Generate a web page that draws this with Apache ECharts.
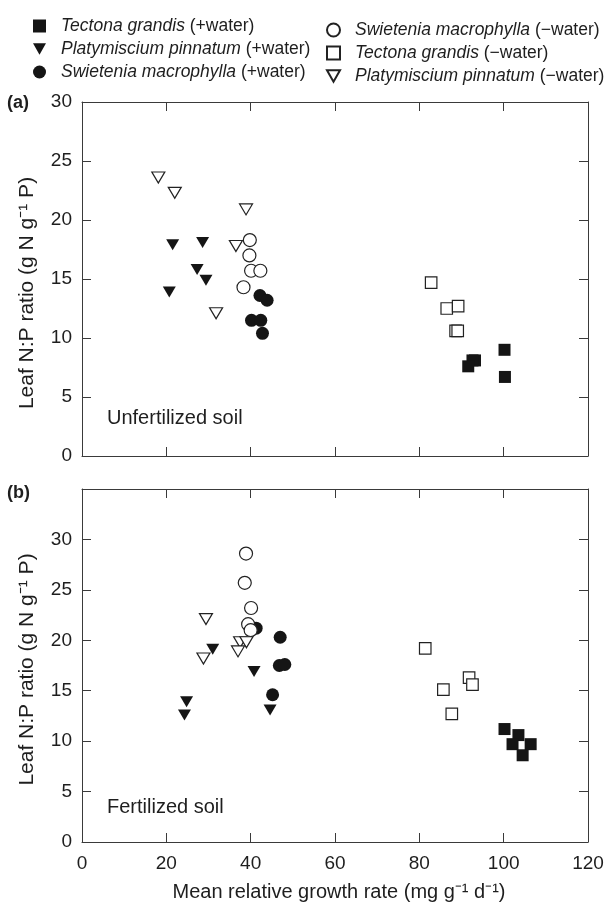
<!DOCTYPE html>
<html>
<head>
<meta charset="utf-8">
<script src="https://cdn.jsdelivr.net/npm/echarts@6/dist/echarts.min.js"></script>
<style>
  html, body { margin: 0; padding: 0; background: #fff; }
  #chart { width: 607px; height: 903px; }
</style>
</head>
<body>
<div id="chart"></div>
<script>
// series names (legend)
var names = [
  'Tectona grandis (+water)',
  'Platymiscium pinnatum (+water)',
  'Swietenia macrophylla (+water)',
  'Swietenia macrophylla (\u2212water)',
  'Tectona grandis (\u2212water)',
  'Platymiscium pinnatum (\u2212water)'
];

// panel (a) unfertilized soil: [growth rate, N:P]
var unfTectonaWet = [[100.2, 9.0], [93.2, 8.1], [92.6, 8.1], [91.6, 7.6], [100.3, 6.7]];
var unfPlatyWet = [[21.5, 17.9], [28.6, 18.1], [27.3, 15.8], [29.4, 14.9], [20.7, 13.9]];
var unfSwietWet = [[42.2, 13.6], [43.9, 13.2], [40.2, 11.5], [42.4, 11.5], [42.8, 10.4]];
var unfSwietDry = [[39.8, 18.3], [39.7, 17.0], [40.1, 15.7], [42.3, 15.7], [38.3, 14.3]];
var unfTectonaDry = [[82.8, 14.7], [86.5, 12.5], [89.2, 12.7], [88.6, 10.6], [89.1, 10.6]];
var unfPlatyDry = [[18.1, 23.6], [22.0, 22.3], [38.9, 20.9], [36.5, 17.8], [31.8, 12.1]];

// panel (b) fertilized soil
var ferTectonaWet = [[100.2, 11.2], [103.5, 10.6], [102.1, 9.7], [106.4, 9.7], [104.5, 8.6]];
var ferPlatyWet = [[31.0, 19.1], [40.8, 16.9], [24.8, 13.9], [24.3, 12.6], [44.6, 13.1]];
var ferSwietWet = [[41.3, 21.2], [47.0, 20.3], [46.8, 17.5], [48.1, 17.6], [45.2, 14.6]];
var ferSwietDry = [[38.9, 28.6], [38.6, 25.7], [40.1, 23.2], [39.4, 21.6], [40.0, 21.0]];
var ferTectonaDry = [[81.4, 19.2], [91.8, 16.3], [92.6, 15.6], [85.7, 15.1], [87.7, 12.7]];
var ferPlatyDry = [[29.4, 22.1], [28.8, 18.2], [37.5, 19.8], [39.0, 19.8], [37.0, 18.9]];

var xTicks = [0, 20, 40, 60, 80, 100, 120];

var FONT = 'Liberation Sans, Arial, sans-serif';
var INK = '#3a3a3a';
var TXT = '#1e1e1e';
var triDown = 'path://M0,0 L12,0 L6,10.4 Z';

var shapes = [
  { symbol: 'rect', size: 12, fill: true },
  { symbol: triDown, size: [13, 11], fill: true },
  { symbol: 'circle', size: 13, fill: true },
  { symbol: 'circle', size: 13, fill: false },
  { symbol: 'rect', size: 11.5, fill: false },
  { symbol: triDown, size: [13, 11], fill: false }
];

var panels = [
  [unfTectonaWet, unfPlatyWet, unfSwietWet, unfSwietDry, unfTectonaDry, unfPlatyDry],
  [ferTectonaWet, ferPlatyWet, ferSwietWet, ferSwietDry, ferTectonaDry, ferPlatyDry]
];

var series = [];
panels.forEach(function (sets, p) {
  sets.forEach(function (d, i) {
    var s = shapes[i];
    series.push({
      name: names[i],
      type: 'scatter',
      xAxisIndex: p * 2,
      yAxisIndex: p * 2,
      symbol: s.symbol,
      symbolSize: s.size,
      z: s.fill ? 2 : 3,
      itemStyle: s.fill
        ? { color: '#151515', opacity: 1 }
        : { color: '#fff', borderColor: '#222', borderWidth: 1.2, opacity: 1 },
      data: d
    });
  });
});

function xAx(grid, pos, labels) {
  var a = {
    gridIndex: grid, type: 'value', position: pos,
    min: xTicks[0], max: xTicks[xTicks.length - 1], interval: 20,
    axisLine: { show: true, onZero: false, lineStyle: { color: INK, width: 1 } },
    axisTick: { show: true, inside: true, length: 9, lineStyle: { color: INK } },
    axisLabel: { show: labels, margin: 12, color: TXT, fontSize: 19, fontFamily: FONT },
    splitLine: { show: false }
  };
  if (labels) {
    a.name = 'Mean relative growth rate (mg g\u207B\u00B9 d\u207B\u00B9)';
    a.nameLocation = 'middle';
    a.nameGap = 40;
    a.nameTextStyle = { color: TXT, fontSize: 20, fontFamily: FONT, padding: [0, 0, 0, 8] };
  }
  return a;
}

function yAx(grid, pos, max, labels, pad) {
  var a = {
    gridIndex: grid, type: 'value', position: pos,
    min: 0, max: max, interval: 5,
    axisLine: { show: true, onZero: false, lineStyle: { color: INK, width: 1 } },
    axisTick: { show: true, inside: true, length: 9, lineStyle: { color: INK } },
    axisLabel: {
      show: labels, margin: 10, color: TXT, fontSize: 19, fontFamily: FONT,
      formatter: function (v) { return v > 30 ? '' : v; }
    },
    splitLine: { show: false }
  };
  if (labels) {
    a.name = 'Leaf N:P ratio (g N g\u207B\u00B9 P)';
    a.nameLocation = 'middle';
    a.nameGap = 44;
    a.nameTextStyle = { color: TXT, fontSize: 21, fontFamily: FONT, padding: pad };
  }
  return a;
}

// species name in italics, treatment upright
function legendFmt(n) {
  var k = n.indexOf(' (');
  return '{g|}{i|' + n.slice(0, k) + '}' + n.slice(k);
}
var legendText = {
  color: TXT, fontSize: 17.5, fontFamily: FONT, lineHeight: 18,
  rich: {
    g: { width: 10 },
    i: { fontStyle: 'italic', color: TXT, fontSize: 17.5, fontFamily: FONT, lineHeight: 18 }
  }
};

var chart = echarts.init(document.getElementById('chart'), null, { renderer: 'canvas' });
var option = {
  backgroundColor: '#fff',
  animation: false,
  legend: [
    {
      orient: 'vertical', left: 28, top: 12, itemGap: 5,
      itemWidth: 13, itemHeight: 13,
      data: names.slice(0, 3), formatter: legendFmt, textStyle: legendText,
      selectedMode: false
    },
    {
      orient: 'vertical', left: 321, top: 16, itemGap: 5,
      itemWidth: 13, itemHeight: 13,
      data: names.slice(3), formatter: legendFmt, textStyle: legendText,
      selectedMode: false
    }
  ],
  title: [
    { text: '(a)', left: 2, top: 89, textStyle: { fontSize: 18, fontWeight: 'bold', color: TXT, fontFamily: FONT } },
    { text: '(b)', left: 2, top: 479, textStyle: { fontSize: 18, fontWeight: 'bold', color: TXT, fontFamily: FONT } },
    { text: 'Unfertilized soil', left: 102, top: 403, textStyle: { fontSize: 20, fontWeight: 'normal', color: TXT, fontFamily: FONT } },
    { text: 'Fertilized soil', left: 102, top: 792, textStyle: { fontSize: 20, fontWeight: 'normal', color: TXT, fontFamily: FONT } }
  ],
  grid: [
    { left: 82, right: 19, top: 102, height: 354 },
    { left: 82, right: 19, top: 489, height: 354 }
  ],
  xAxis: [xAx(0, 'bottom', false), xAx(0, 'top', false), xAx(1, 'bottom', true), xAx(1, 'top', false)],
  yAxis: [
    yAx(0, 'left', 30, true, [0, 28, 0, 0]), yAx(0, 'right', 30, false),
    yAx(1, 'left', 35, true, [0, 8, 0, 0]), yAx(1, 'right', 35, false)
  ],
  series: series
};
chart.setOption(option);
</script>
</body>
</html>
